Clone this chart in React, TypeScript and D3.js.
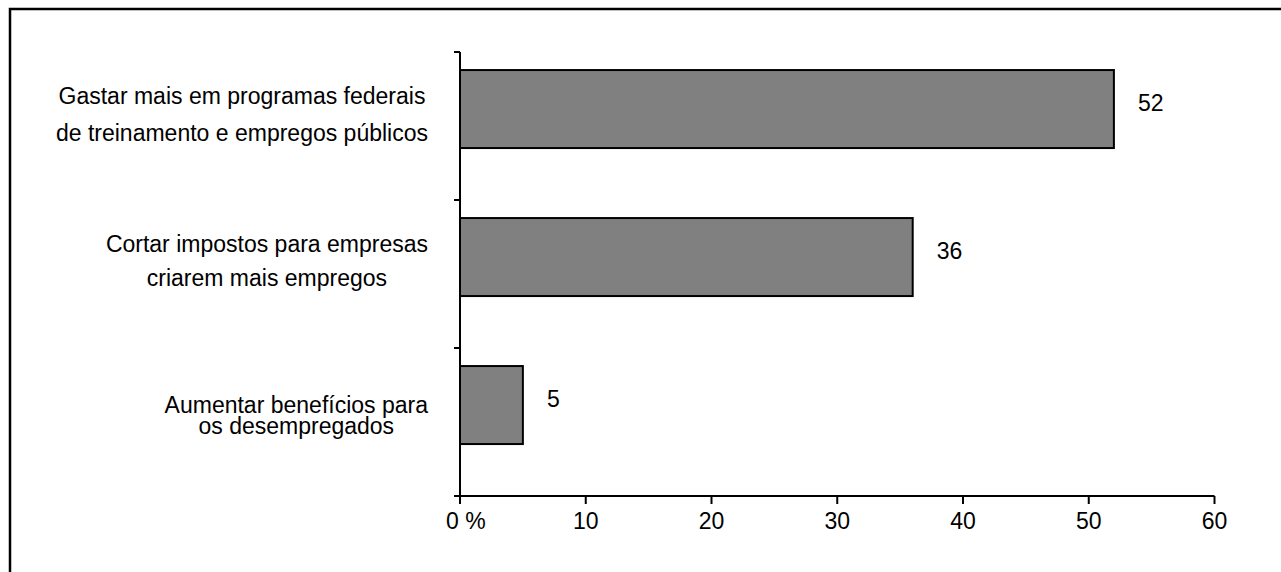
import React, { useEffect, useRef } from "react";
import * as d3 from "d3";

const categoryIds = ["gastar", "cortar", "aumentar"];
const categoryLines = [
  ["Gastar mais em programas federais", "de treinamento e empregos públicos"],
  ["Cortar impostos para empresas", "criarem mais empregos"],
  ["Aumentar benefícios para", "os desempregados"],
];
const values = [52, 36, 5];
const xTicks = [0, 10, 20, 30, 40, 50, 60];
const xTickLabels = ["0 %", "10", "20", "30", "40", "50", "60"];

// layout (style) constants
const W = 1281;
const H = 572;
const FONT = "'Liberation Sans', Arial, sans-serif";
const FS = 23;
const LABEL_LINE_OFFSETS = [
  [52, 89],
  [52, 86],
  [65, 86],
];

export default function App() {
  const ref = useRef<SVGSVGElement | null>(null);

  useEffect(() => {
    const svg = d3.select(ref.current);
    svg.selectAll("*").remove();

    const x = d3.scaleLinear().domain([0, 60]).range([460, 1214.5]);
    const y = d3.scaleBand<string>().domain(categoryIds).range([52, 496]).paddingInner(0).paddingOuter(0);
    const bw = y.bandwidth();

    // frame
    svg
      .append("rect")
      .attr("x", 10)
      .attr("y", 9)
      .attr("width", 3000)
      .attr("height", 3000)
      .attr("fill", "none")
      .attr("stroke", "#000")
      .attr("stroke-width", 2.5);

    // bars
    svg
      .append("g")
      .selectAll("rect")
      .data(values)
      .join("rect")
      .attr("x", x(0))
      .attr("y", (_, i) => (y(categoryIds[i]) as number) + bw * 0.122)
      .attr("width", (d) => x(d) - x(0))
      .attr("height", bw * 0.527)
      .attr("fill", "#808080")
      .attr("stroke", "#000")
      .attr("stroke-width", 2);

    // value labels
    svg
      .append("g")
      .selectAll("text")
      .data(values)
      .join("text")
      .attr("x", (d) => x(d) + 24)
      .attr("y", (_, i) => (y(categoryIds[i]) as number) + bw * 0.122 + 41)
      .attr("font-family", FONT)
      .attr("font-size", FS)
      .attr("fill", "#000")
      .text((d) => String(d));

    // y axis
    const axisG = svg.append("g").attr("stroke", "#000").attr("stroke-width", 2).attr("fill", "none");
    axisG
      .append("line")
      .attr("x1", x(0))
      .attr("x2", x(0))
      .attr("y1", y.range()[0])
      .attr("y2", y.range()[1]);
    const yTickPos = [...categoryIds.map((c) => y(c) as number), y.range()[1]];
    axisG
      .selectAll("line.yt")
      .data(yTickPos)
      .join("line")
      .attr("class", "yt")
      .attr("x1", x(0) - 6)
      .attr("x2", x(0))
      .attr("y1", (d) => d)
      .attr("y2", (d) => d);

    // x axis
    const axisY = y.range()[1];
    axisG
      .append("line")
      .attr("x1", x(0))
      .attr("x2", x(60))
      .attr("y1", axisY)
      .attr("y2", axisY);
    axisG
      .selectAll("line.xt")
      .data(xTicks)
      .join("line")
      .attr("class", "xt")
      .attr("x1", (d) => x(d))
      .attr("x2", (d) => x(d))
      .attr("y1", axisY)
      .attr("y2", axisY + 8);

    svg
      .append("g")
      .selectAll("text")
      .data(xTicks)
      .join("text")
      .attr("x", (d, i) => (i === 0 ? x(d) - 14 : x(d)))
      .attr("y", axisY + 33)
      .attr("text-anchor", (_, i) => (i === 0 ? "start" : "middle"))
      .attr("font-family", FONT)
      .attr("font-size", FS)
      .attr("fill", "#000")
      .text((_, i) => xTickLabels[i]);

    // category labels: block right-aligned, lines centered within block
    const rightEdge = x(0) - 32;
    categoryLines.forEach((lines, i) => {
      const g = svg.append("g");
      const texts = g
        .selectAll("text")
        .data(lines)
        .join("text")
        .attr("y", (_, j) => (y(categoryIds[i]) as number) + LABEL_LINE_OFFSETS[i][j])
        .attr("text-anchor", "middle")
        .attr("font-family", FONT)
        .attr("font-size", FS)
        .attr("fill", "#000")
        .text((d) => d);
      let maxW = 0;
      texts.each(function () {
        maxW = Math.max(maxW, (this as SVGTextElement).getComputedTextLength());
      });
      texts.attr("x", rightEdge - maxW / 2);
    });
  }, []);

  return (
    <svg
      ref={ref}
      width={W}
      height={H}
      style={{ position: "absolute", left: 0, top: 0, background: "#fff" }}
    />
  );
}
